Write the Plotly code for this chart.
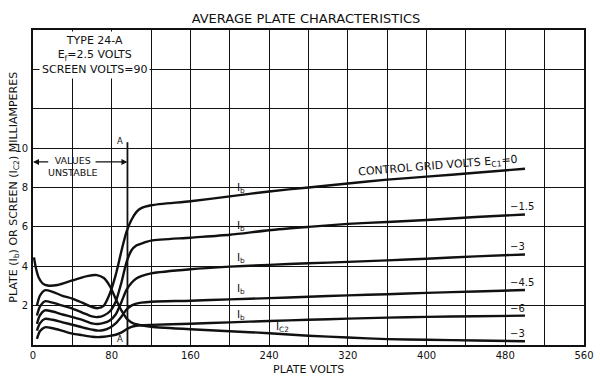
import plotly.graph_objects as go

# ---------------- data ----------------
x_ib = [4, 7, 12, 20, 30, 40, 50, 60, 66, 72, 78, 84, 90, 95, 100, 105, 110, 120,
        160, 200, 240, 280, 320, 360, 400, 450, 500]
ib_0 = [2.0, 2.5, 2.78, 2.7, 2.5, 2.36, 2.15, 1.93, 1.87, 2.0, 2.6, 3.55, 4.8, 5.75,
        6.35, 6.75, 6.95, 7.1, 7.3, 7.55, 7.8, 8.0, 8.2, 8.4, 8.55, 8.75, 8.95]
ib_m1_5 = [1.5, 1.95, 2.22, 2.15, 2.0, 1.85, 1.65, 1.45, 1.42, 1.5, 1.7, 2.2, 3.2, 4.2,
           4.8, 5.05, 5.15, 5.3, 5.45, 5.6, 5.83, 6.0, 6.15, 6.25, 6.35, 6.5, 6.63]
ib_m3 = [1.07, 1.5, 1.76, 1.7, 1.55, 1.42, 1.28, 1.1, 1.07, 1.12, 1.25, 1.55, 2.2, 2.8,
         3.15, 3.38, 3.5, 3.64, 3.85, 3.98, 4.07, 4.15, 4.22, 4.3, 4.38, 4.5, 4.6]
ib_m4_5 = [0.73, 1.1, 1.33, 1.28, 1.15, 1.03, 0.9, 0.78, 0.73, 0.76, 0.88, 1.1, 1.45, 1.8,
           2.0, 2.1, 2.15, 2.2, 2.25, 2.32, 2.38, 2.45, 2.52, 2.58, 2.65, 2.72, 2.79]
ib_m6 = [0.31, 0.7, 0.9, 0.85, 0.72, 0.58, 0.5, 0.42, 0.4, 0.42, 0.46, 0.52, 0.64, 0.8,
         0.92, 0.98, 1.0, 1.02, 1.08, 1.15, 1.22, 1.28, 1.34, 1.39, 1.43, 1.46, 1.49]

x_ic2 = [1, 3, 6, 10, 15, 25, 40, 55, 65, 72, 78, 84, 90, 96, 102, 110, 120,
         160, 200, 240, 280, 320, 360, 400, 450, 500]
ic2_m3 = [4.45, 3.9, 3.4, 3.12, 3.02, 3.05, 3.28, 3.5, 3.55, 3.4, 3.0, 2.35, 1.75, 1.3,
          1.1, 1.0, 0.93, 0.8, 0.7, 0.6, 0.47, 0.38, 0.3, 0.27, 0.23, 0.19]

ib_series = [ib_0, ib_m1_5, ib_m3, ib_m4_5, ib_m6]
grid_labels = ["CONTROL GRID VOLTS E<sub>C1</sub>=0", "\u22121.5", "\u22123", "\u22124.5", "\u22126"]
ic2_label = "\u22123"

x_tickvals = [0, 80, 160, 240, 320, 400, 480, 560]
x_gridvals = [40, 120, 200, 280, 360, 440, 520]
y_tickvals = [2, 4, 6, 8, 10]
y_gridvals = [12, 14, 16]

unstable_limit = 96   # plate volts of line "A"

FONT = "DejaVu Sans"
INK = "#111111"

fig = go.Figure()
for ys in ib_series:
    fig.add_trace(go.Scatter(x=x_ib, y=ys, mode="lines",
                             line=dict(color=INK, width=2.4, shape="spline", smoothing=0.7),
                             hoverinfo="skip", showlegend=False))
fig.add_trace(go.Scatter(x=x_ic2, y=ic2_m3, mode="lines",
                         line=dict(color=INK, width=2.4, shape="spline", smoothing=0.7),
                         hoverinfo="skip", showlegend=False))

ann = []
# Ib labels
for ys, yoff in zip(ib_series, [0.4, 0.45, 0.45, 0.5, 0.35]):
    ann.append(dict(x=211, y=ys[x_ib.index(200)] + yoff, text="I<sub>b</sub>",
                    showarrow=False, font=dict(size=10.5, family=FONT, color=INK)))
ann.append(dict(x=254, y=0.9, text="I<sub>C2</sub>", showarrow=False,
                font=dict(size=10.5, family=FONT, color=INK)))
# right-end labels
for ys, lab in zip(ib_series[1:], grid_labels[1:]):
    ann.append(dict(x=483, y=ys[-1], text=lab, xanchor="left", yanchor="bottom",
                    showarrow=False, font=dict(size=10, family=FONT, color=INK)))
ann.append(dict(x=483, y=ic2_m3[-1], text=ic2_label, xanchor="left", yanchor="bottom",
                showarrow=False, font=dict(size=10, family=FONT, color=INK)))
ann.append(dict(x=412, y=9.1, text=grid_labels[0], textangle=-4.6, showarrow=False,
                font=dict(size=11, family=FONT, color=INK)))
# unstable region
ann.append(dict(x=40, y=9.05, text="VALUES<br>UNSTABLE", showarrow=False,
                font=dict(size=9.5, family=FONT, color=INK)))
ann.append(dict(x=0, y=9.3, ax=17, ay=9.3, axref="x", ayref="y", text="",
                showarrow=True, arrowhead=2, arrowsize=1, arrowwidth=1.2, arrowcolor=INK))
ann.append(dict(x=unstable_limit, y=9.3, ax=62, ay=9.3, axref="x", ayref="y", text="",
                showarrow=True, arrowhead=2, arrowsize=1, arrowwidth=1.2, arrowcolor=INK))
ann.append(dict(x=unstable_limit - 2, y=10.35, text="A", xanchor="right", showarrow=False,
                font=dict(size=8.5, family=FONT, color=INK)))
ann.append(dict(x=unstable_limit - 2, y=0.3, text="A", xanchor="right", showarrow=False,
                font=dict(size=8.5, family=FONT, color=INK)))
# info box
ann.append(dict(x=62, y=14.75, xanchor="center", yanchor="middle",
                text="TYPE 24-A<br>E<sub>f</sub>=2.5 VOLTS<br>SCREEN VOLTS=90",
                showarrow=False, bgcolor="white", borderpad=2,
                font=dict(size=11, family=FONT, color=INK)))
# axis titles
ann.append(dict(x=0.5, y=-0.052, xref="paper", yref="paper", text="PLATE VOLTS",
                xanchor="center", yanchor="top", showarrow=False,
                font=dict(size=11, family=FONT, color=INK)))
ann.append(dict(x=-0.036, y=0.5, xref="paper", yref="paper", textangle=-90,
                xanchor="center", yanchor="middle",
                text="PLATE (I<sub>b</sub>) OR SCREEN (I<sub>C2</sub>) MILLIAMPERES",
                showarrow=False, font=dict(size=11, family=FONT, color=INK)))

fig.add_shape(type="line", x0=unstable_limit, x1=unstable_limit, y0=0, y1=10.3,
              line=dict(color=INK, width=1.8))

fig.update_layout(
    width=600, height=376,
    margin=dict(l=33, r=16, t=30, b=31, autoexpand=False),
    paper_bgcolor="white", plot_bgcolor="white",
    title=dict(text="AVERAGE PLATE CHARACTERISTICS", x=0.51, xanchor="center",
               y=1 - 18 / 376, yanchor="middle",
               font=dict(size=13, family=FONT, color=INK)),
    annotations=ann,
    xaxis=dict(range=[0, 560], tickmode="array", tickvals=x_tickvals, automargin=False,
               showgrid=True, gridcolor=INK, gridwidth=1.2, zeroline=False,
               minor=dict(tickmode="array", tickvals=x_gridvals, showgrid=True,
                          gridcolor=INK, gridwidth=1.2, ticks=""),
               showline=True, linecolor=INK, linewidth=2, mirror=True, ticks="",
               ticklabelstandoff=0,
               tickfont=dict(size=10, family=FONT, color=INK)),
    yaxis=dict(range=[0, 16], tickmode="array", tickvals=y_tickvals, automargin=False,
               showgrid=True, gridcolor=INK, gridwidth=1.2, zeroline=False,
               minor=dict(tickmode="array", tickvals=y_gridvals, showgrid=True,
                          gridcolor=INK, gridwidth=1.2, ticks=""),
               showline=True, linecolor=INK, linewidth=2, mirror=True, ticks="",
               ticklabelstandoff=1,
               tickfont=dict(size=10, family=FONT, color=INK)),
)

fig.write_html("out.html", config={"displayModeBar": False},
               post_script="document.body.style.margin='0';document.body.style.overflow='hidden';")
